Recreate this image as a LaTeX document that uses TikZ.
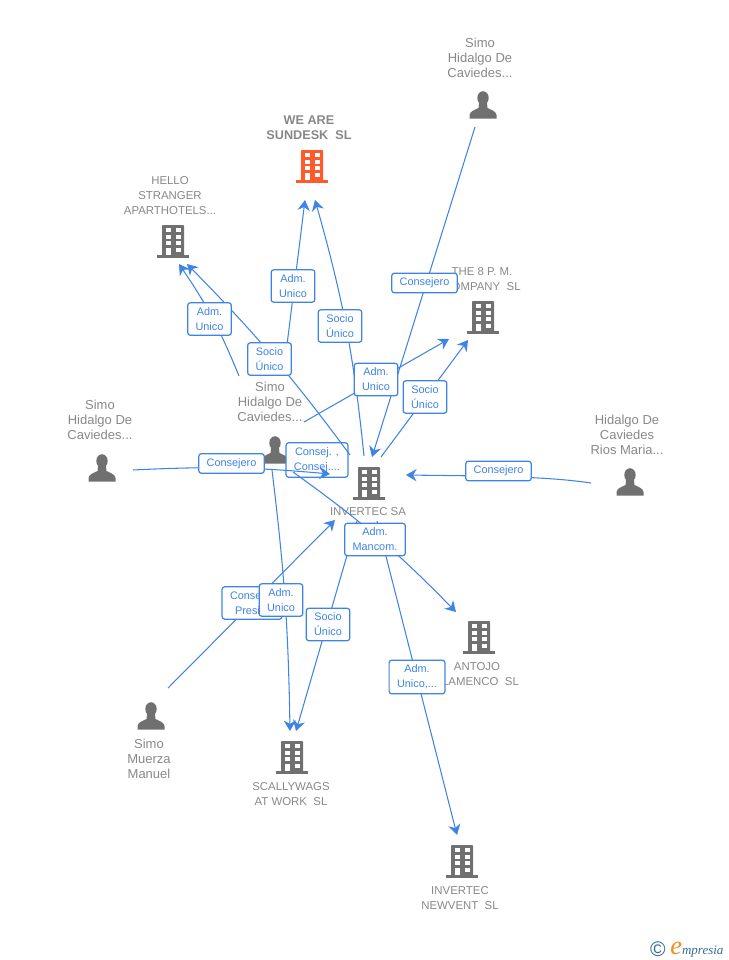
\documentclass[tikz,border=0pt]{standalone}
\usepackage{fontspec}
\setmainfont{Liberation Sans}
\newfontfamily\logofont{Liberation Serif}
\usetikzlibrary{arrows.meta}
\definecolor{linkblue}{HTML}{3F84E5}
\definecolor{iconGray}{HTML}{707070}
\definecolor{nameGray}{HTML}{888888}
\definecolor{mainRed}{HTML}{FF5A2B}
\definecolor{logoTeal}{HTML}{2F6F8F}
\definecolor{logoOrange}{HTML}{F28A1E}
\tikzset{
  link/.style={draw=linkblue,line width=0.6pt,-{Stealth[length=6pt,width=7pt]}},
  role/.style={draw=linkblue,fill=white,line width=0.7pt,rounded corners=1.5pt,text=linkblue,align=center,
    font=\fontsize{6.2}{8.5}\selectfont,inner xsep=4.5pt,inner ysep=2.7pt},
  entity/.style={text=nameGray,align=center,inner sep=0pt,font=\fontsize{6.5}{8.5}\selectfont},
  human/.style={entity,font=\fontsize{7.4}{8.5}\selectfont},
  mainentity/.style={entity,font=\fontsize{7.2}{8.5}\selectfont\bfseries},
  building/.pic={
    \fill[pic actions,rounded corners=0.5pt] (-11,-16) rectangle (11,15);
    \fill[pic actions] (-16,14) rectangle (16,17);
    \foreach \row in {-13,-6.5,0}{
      \fill[white] (-7.5,\row) rectangle (-2.5,\row+4.2);
      \fill[white] (2.5,\row) rectangle (7.5,\row+4.2);
    }
    \fill[white] (-7.5,6.5) rectangle (-2.5,14);
    \fill[white] (2.5,6.5) rectangle (7.5,11);
  },
  person/.pic={
    \fill[pic actions] (0,-7) ellipse (5.7 and 6.8);
    \fill[pic actions] (-13.5,13.5) -- (-13.5,10) .. controls (-13,6) and (-8,5) .. (-4.5,3)
      -- (-4,-2) -- (4,-2) -- (4.5,3) .. controls (8,5) and (13,6) .. (13.5,10) -- (13.5,13.5) -- cycle;
  }
}
\begin{document}
\begin{tikzpicture}[x=0.02cm,y=-0.02cm]
        \useasboundingbox (0,0) rectangle (728,960);

        \pic[fill=iconGray] (simoTopIcon) at (483,105) {person};
        \pic[fill=iconGray] (simoLeftIcon) at (102,468) {person};
        \pic[fill=iconGray] (simoMidIcon) at (275,450) {person};
        \pic[fill=iconGray] (hidalgoIcon) at (630,482) {person};
        \pic[fill=iconGray] (muerzaIcon) at (151,716) {person};
        \pic[fill=mainRed] (weAreIcon) at (312,166) {building};
        \pic[fill=iconGray] (helloIcon) at (173,241) {building};
        \pic[fill=iconGray] (eightIcon) at (483,317) {building};
        \pic[fill=iconGray] (invertecIcon) at (369,483) {building};
        \pic[fill=iconGray] (antojoIcon) at (479,637) {building};
        \pic[fill=iconGray] (scallyIcon) at (292,757) {building};
        \pic[fill=iconGray] (newventIcon) at (462,861) {building};

        \node[human] (simoTop) at (480,58) {Simo\\Hidalgo De\\Caviedes...};
        \node[human] (simoLeft) at (100,420) {Simo\\Hidalgo De\\Caviedes...};
        \node[human] (simoMid) at (270,402) {Simo\\Hidalgo De\\Caviedes...};
        \node[human] (hidalgo) at (627,435) {Hidalgo De\\Caviedes\\Rios Maria...};
        \node[human] (muerza) at (149,759) {Simo\\Muerza\\Manuel};
        \node[mainentity] (weAre) at (309,128) {WE ARE\\SUNDESK\ \ SL};
        \node[entity] (hello) at (170,195.5) {HELLO\\STRANGER\\APARTHOTELS...};
        \node[entity] (eight) at (482,279) {THE 8 P. M.\\COMPANY\ \ SL};
        \node[entity] (invertec) at (368,512) {INVERTEC SA};
        \node[entity] (antojo) at (477,674) {ANTOJO\\FLAMENCO\ \ SL};
        \node[entity] (scally) at (291,794) {SCALLYWAGS\\AT WORK\ \ SL};
        \node[entity] (newvent) at (460,898) {INVERTEC\\NEWVENT\ \ SL};

        \coordinate (simoTopOut) at (475,127);
        \coordinate (simoLeftOut) at (133,470);
        \coordinate (simoMidUp) at (239,376);
        \coordinate (simoMidSide) at (304,422);
        \coordinate (simoMidDown) at (272,470);
        \coordinate (simoMidLow) at (293,472);
        \coordinate (simoMidStart) at (287,345);
        \coordinate (hidalgoOut) at (591,483);
        \coordinate (muerzaOut) at (168,688);
        \coordinate (weAreInA) at (305,200);
        \coordinate (weAreInB) at (315,200);
        \coordinate (helloInA) at (179,264);
        \coordinate (helloInB) at (187,264);
        \coordinate (eightInA) at (449,339);
        \coordinate (eightInB) at (468,340);
        \coordinate (antojoIn) at (456,612);
        \coordinate (scallyInA) at (290,731);
        \coordinate (scallyInB) at (296,731);
        \coordinate (newventIn) at (457,835);
        \coordinate (invertecTopA) at (350,455);
        \coordinate (invertecTopB) at (364,456);
        \coordinate (invertecTopC) at (372,457);
        \coordinate (invertecTopD) at (381,457);
        \coordinate (invertecRight) at (406,475);
        \coordinate (invertecLeft) at (330,474);
        \coordinate (invertecLow) at (335,520);
        \coordinate (invertecOutA) at (357,521);
        \coordinate (invertecOutB) at (377,521);

        \node[role] (consejMid) at (317,460) {Consej. ,\\Consej....};

        \draw[link] (simoLeftOut) to[bend left=4] (invertecLeft);
        \draw[link] (simoMidLow) to[bend left=5] (antojoIn);
        \draw[link] (simoTopOut) -- (invertecTopC);
        \draw[link] (simoMidSide) -- (eightInA);
        \draw[link] (invertecTopD) -- (eightInB);
        \draw[link] (hidalgoOut) .. controls (545,476) and (480,476) .. (invertecRight);
        \draw[link] (simoMidUp) to[bend right=6] (helloInA);
        \draw[link] (invertecTopA) to[bend right=4] (helloInB);
        \draw[link] (simoMidStart) -- (weAreInA);
        \draw[link] (invertecTopB) to[bend right=5] (weAreInB);
        \draw[link] (muerzaOut) -- (invertecLow);
        \draw[link] (simoMidDown) to[bend left=3] (scallyInA);
        \draw[link] (invertecOutA) -- (scallyInB);
        \draw[link] (invertecOutB) -- (newventIn);

        \node[role] (consejeroTop) at (424.5,283) {Consejero};
        \node[role] (admEight) at (376,379.5) {Adm.\\Unico};
        \node[role] (socioEight) at (425,397) {Socio\\Único};
        \node[role] (consejeroRight) at (498.5,471) {Consejero};
        \node[role] (consejeroLeft) at (231.5,463.5) {Consejero};
        \node[role] (admHello) at (209.5,319) {Adm.\\Unico};
        \node[role] (socioHello) at (269.5,359) {Socio\\Único};
        \node[role] (admWeAre) at (293,286) {Adm.\\Unico};
        \node[role] (socioWeAre) at (340,326) {Socio\\Único};
        \node[role] (admMancom) at (375,539.5) {Adm.\\Mancom.};
        \node[role] (consejPres) at (252,603) {Consej. ,\\Presid.};
        \node[role] (admScally) at (281,600) {Adm.\\Unico};
        \node[role] (socioScally) at (328,624.5) {Socio\\Único};
        \node[role] (admNewvent) at (417,677) {Adm.\\Unico,...};

        \node[text=logoTeal,inner sep=0pt,font=\fontsize{12}{12}\selectfont] (logoMark) at (658,949) {©};
        \node[anchor=west,inner sep=0pt,text=logoTeal,font=\logofont\fontsize{7.4}{9}\selectfont\itshape] (logoName) at (670,950)
          {{\color{logoOrange}\fontsize{15}{15}\selectfont e}mpresia};
\end{tikzpicture}
\end{document}
